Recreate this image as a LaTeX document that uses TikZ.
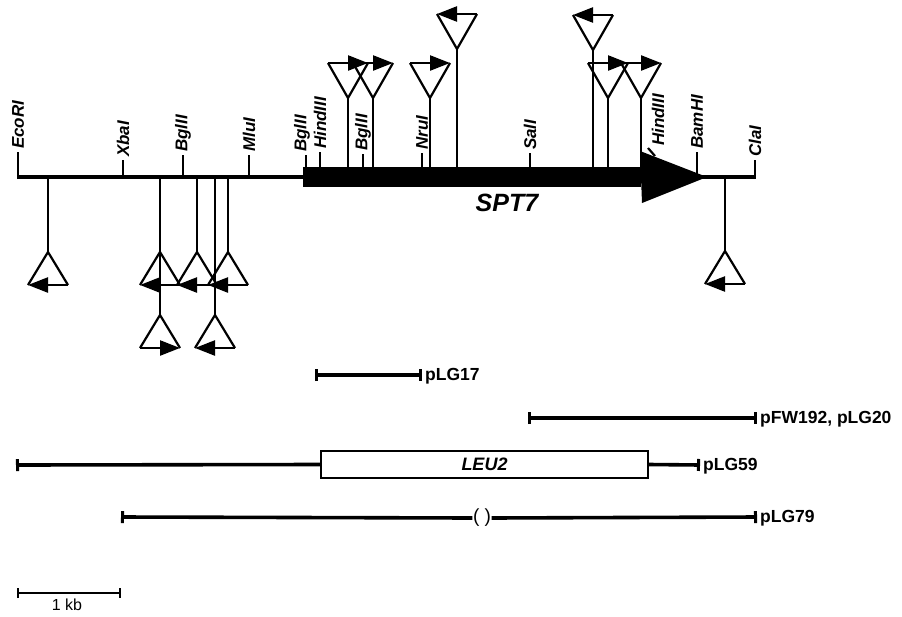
\documentclass[tikz,border=0pt]{standalone}
\usepackage{fontspec}
\setmainfont{Liberation Sans}
\usetikzlibrary{arrows.meta}
\tikzset{
  mainline/.style={line width=3.6pt},
  sitetick/.style={line width=2.2pt},
  stemline/.style={line width=2.2pt},
  trio/.style={line width=2.2pt, line join=miter},
  arrR/.style={line width=2.4pt, -{Triangle[length=20pt,width=15pt]}},
  arrL/.style={line width=2.4pt, {Triangle[length=20pt,width=15pt]}-},
  enz/.style={font=\bfseries\itshape\fontsize{17}{17}\selectfont, rotate=90, anchor=west, inner sep=1pt},
  plab/.style={font=\bfseries\fontsize{17.5}{17.5}\selectfont, anchor=west, inner sep=1pt},
  clone/.style={line width=3.6pt, {Bar[width=12pt,line width=3pt]}-{Bar[width=12pt,line width=3pt]}},
  cloneL/.style={line width=3.6pt, {Bar[width=12pt,line width=3pt]}-},
  cloneR/.style={line width=3.6pt, -{Bar[width=12pt,line width=3pt]}},
}
% top insertion: name, x, vertex y, arrow style
\newcommand\TopIns[4]{%
  \coordinate (#1v) at (#2,#3);
  \coordinate (#1a) at (#2-20,#3-35);
  \coordinate (#1b) at (#2+20,#3-35);
  \coordinate (#1s) at (#2,167);
  \draw[stemline] (#1s) -- (#1v);
  \draw[trio] (#1a) -- (#1v) -- (#1b);
  \draw[#4] (#1a) -- (#1b);
}
% bottom insertion: name, x, apex y, arrow style
\newcommand\BotIns[4]{%
  \coordinate (#1v) at (#2,#3);
  \coordinate (#1a) at (#2-20,#3+33);
  \coordinate (#1b) at (#2+20,#3+33);
  \draw[trio] (#1a) -- (#1v) -- (#1b);
  \draw[#4] (#1a) -- (#1b);
}
% restriction site: name, x, base y, top y, label, label x
\newcommand\RSite[6]{%
  \coordinate (#1base) at (#2,#3);
  \coordinate (#1top) at (#2,#4);
  \draw[sitetick] (#1base) -- (#1top);
  \node[enz] (#1) at (#6,#4-2) {#5};
}
\begin{document}
\begin{tikzpicture}[x=1pt,y=-1pt]
\useasboundingbox (0,0) rectangle (902,616);
% main line
\coordinate (mL) at (18,177);
\coordinate (mR) at (755,177);
\draw[mainline] (mL) -- (mR);
% SPT7 bar and arrow
\fill (303,167) rectangle (641,187);
\fill (640,151) -- (707,177) -- (642,203) -- cycle;
\node[font=\bfseries\itshape\fontsize{25}{25}\selectfont, inner sep=0pt] (spt) at (507,203) {SPT7};
% restriction sites
\RSite{eco}{18}{179}{152}{EcoRI}{18}
\RSite{xba}{123}{177}{160}{XbaI}{123}
\RSite{bgla}{183}{177}{155}{BglII}{183}
\RSite{mlu}{249}{177}{155}{MluI}{249}
\RSite{bglb}{306}{167}{155}{BglII}{302}
\RSite{hinda}{320}{167}{152}{HindIII}{320}
\RSite{bglc}{363}{167}{154}{BglII}{363}
\RSite{nru}{422}{167}{153}{NruI}{422}
\RSite{sal}{530}{167}{153}{SalI}{530}
\RSite{bam}{697}{175}{152}{BamHI}{697}
\RSite{cla}{755}{179}{160}{ClaI}{755}
\coordinate (hbA) at (655,156);
\coordinate (hbB) at (648,148);
\draw[sitetick] (hbA) -- (hbB);
\node[enz] (hindb) at (658,147) {HindIII};
% insertions above
\TopIns{ta}{348}{98}{arrR}
\TopIns{tb}{373}{98}{arrR}
\TopIns{tc}{430}{98}{arrR}
\TopIns{td}{457}{49}{arrL}
\TopIns{te}{593}{50}{arrL}
\TopIns{tf}{608}{98}{arrR}
\TopIns{tg}{641}{98}{arrR}
% insertions below
\coordinate (s1) at (48,178);
\coordinate (s2) at (160,178);
\coordinate (s4) at (197,178);
\coordinate (s5) at (215,178);
\coordinate (s6) at (228,178);
\coordinate (s7) at (725,178);
\BotIns{ba}{48}{252}{arrL}
\BotIns{bb}{160}{252}{arrL}
\BotIns{bc}{160}{315}{arrR}
\BotIns{bd}{197}{252}{arrL}
\BotIns{be}{215}{315}{arrL}
\BotIns{bf}{228}{252}{arrL}
\BotIns{bg}{725}{251}{arrL}
\draw[stemline] (s1) -- (bav);
\draw[stemline] (s2) -- (bcv);
\draw[stemline] (s4) -- (bdv);
\draw[stemline] (s5) -- (bev);
\draw[stemline] (s6) -- (bfv);
\draw[stemline] (s7) -- (bgv);
% clones
\coordinate (c17a) at (315,375);
\coordinate (c17b) at (422,375);
\draw[clone] (c17a) -- (c17b);
\node[plab] (p17) at (424,376) {pLG17};
\coordinate (c20a) at (528,418);
\coordinate (c20b) at (757,418);
\draw[clone] (c20a) -- (c20b);
\node[plab] (p20) at (759,419) {pFW192, pLG20};
\coordinate (c59a) at (16,465);
\node[draw, line width=1.8pt, minimum width=327pt, minimum height=27pt, inner sep=0pt,
      font=\bfseries\itshape\fontsize{18}{18}\selectfont] (leu) at (484.5,464.5) {LEU2};
\coordinate (c59b) at (700,465);
\draw[cloneL] (c59a) -- (leu.west);
\draw[cloneR] (leu.east) -- (c59b);
\node[plab] (p59) at (702,466) {pLG59};
\coordinate (c79a) at (121,517);
\coordinate (c79b) at (757,517);
\node[font=\fontsize{19}{19}\selectfont, inner sep=0.5pt] (par) at (482,518) {(\hspace{5pt})};
\draw[cloneL] (c79a) -- (par.west);
\draw[cloneR] (par.east) -- (c79b);
\node[plab] (p79) at (759,518) {pLG79};
% scale bar
\coordinate (sbA) at (17,593);
\coordinate (sbB) at (121,593);
\draw[line width=2.4pt, {Bar[width=10pt,line width=2.4pt]}-{Bar[width=10pt,line width=2.4pt]}] (sbA) -- (sbB);
\node[font=\fontsize{16}{16}\selectfont, inner sep=0pt, anchor=north] (kb) at (67,599) {1 kb};
\end{tikzpicture}
\end{document}
